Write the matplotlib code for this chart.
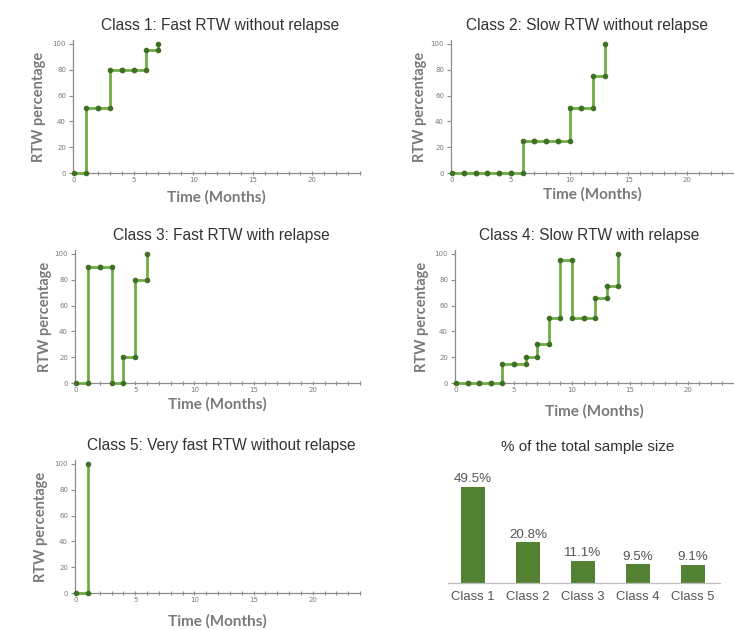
import matplotlib
matplotlib.use("Agg")
import matplotlib.pyplot as plt
import numpy as np
from matplotlib.ticker import MultipleLocator

# ---- data ----
titles = [
    "Class 1: Fast RTW without relapse",
    "Class 2: Slow RTW without relapse",
    "Class 3: Fast RTW with relapse",
    "Class 4: Slow RTW with relapse",
    "Class 5: Very fast RTW without relapse",
]
class1_months = [0, 1, 2, 3, 4, 5, 6, 7]
class1_rtw = [0, 50, 50, 80, 80, 80, 95, 100]
class2_months = [0, 1, 2, 3, 4, 5, 6, 7, 8, 9, 10, 11, 12, 13]
class2_rtw = [0, 0, 0, 0, 0, 0, 25, 25, 25, 25, 50, 50, 75, 100]
class3_months = [0, 1, 2, 3, 4, 5, 6]
class3_rtw = [0, 90, 90, 0, 20, 80, 100]
class4_months = [0, 1, 2, 3, 4, 5, 6, 7, 8, 9, 10, 11, 12, 13, 14]
class4_rtw = [0, 0, 0, 0, 15, 15, 20, 30, 50, 95, 50, 50, 66, 75, 100]
class5_months = [0, 1]
class5_rtw = [0, 100]

bar_labels = ["Class 1", "Class 2", "Class 3", "Class 4", "Class 5"]
bar_values = [49.5, 20.8, 11.1, 9.5, 9.1]
bar_text = ["49.5%", "20.8%", "11.1%", "9.5%", "9.1%"]
bar_title = "% of the total sample size"

series = [
    (class1_months, class1_rtw),
    (class2_months, class2_rtw),
    (class3_months, class3_rtw),
    (class4_months, class4_rtw),
    (class5_months, class5_rtw),
]

W, H = 734, 630
fig = plt.figure(figsize=(W / 100, H / 100), dpi=100)

def px_axes(left, top, right, bottom):
    return fig.add_axes([left / W, 1 - bottom / H, (right - left) / W, (bottom - top) / H])

# pixel boxes (left, top, right, bottom) and label offsets
boxes = [
    (73, 40, 360, 173),
    (451, 40, 734, 173),
    (75, 250, 360, 383),
    (455, 250, 734, 383),
    (75, 460, 360, 593),
]
xlabelpads = [5, 3, 3, 8, 8]
ylabelpads = [5, 2.5, 1.5, 4, 5]
title_dx = [4, -5, 4, -5, 4]

LINE = "#70ad47"
MARK = "#3f7124"
GRAY = "#8c8c8c"
TXT = "#7a7a7a"

for i, (box, (t, v)) in enumerate(zip(boxes, series)):
    ax = px_axes(*box)
    t = np.asarray(t, float)
    v = np.asarray(v, float)
    # step path vertices (steps-post)
    xs = np.repeat(t, 2)[1:]
    ys = np.repeat(v, 2)[:-1]
    ax.plot(xs, ys, color=LINE, lw=2.0, solid_joinstyle="miter", zorder=3,
            marker="o", ms=3.0, mfc=MARK, mec=MARK, clip_on=False)
    ax.set_xlim(-0.1, 24)
    ax.set_ylim(0, 103)
    for s in ["top", "right"]:
        ax.spines[s].set_visible(False)
    for s in ["left", "bottom"]:
        ax.spines[s].set_color(GRAY)
        ax.spines[s].set_linewidth(0.9)
    ax.xaxis.set_major_locator(MultipleLocator(5))
    ax.xaxis.set_minor_locator(MultipleLocator(1))
    ax.yaxis.set_major_locator(MultipleLocator(20))
    ax.tick_params(axis="x", which="both", direction="inout", length=3, width=0.8,
                   color=GRAY, labelsize=5, labelcolor=TXT, pad=1.5)
    ax.tick_params(axis="y", which="both", direction="out", length=3, width=0.8,
                   color=GRAY, labelsize=5, labelcolor=TXT, pad=2)
    aw = box[2] - box[0]
    ax.set_title(titles[i], fontsize=11.2, color="#333333", pad=7,
                 fontfamily="Liberation Sans", x=0.5 + title_dx[i] / aw)
    ax.set_xlabel("Time (Months)", fontsize=11, color=TXT, fontweight="bold",
                  fontfamily="Lato", labelpad=xlabelpads[i])
    ax.set_ylabel("RTW percentage", fontsize=10.5, color=TXT, fontweight="bold",
                  fontfamily="Lato", labelpad=ylabelpads[i])

# bar chart
bx = px_axes(448, 470, 720, 582.5)
pos = np.arange(len(bar_values))
bx.bar(pos, bar_values, width=0.45, color="#548235", zorder=2)
bx.set_xlim(-0.455, 4.49)
bx.set_ylim(0, 58.2)
for s in ["top", "right", "left"]:
    bx.spines[s].set_visible(False)
bx.spines["bottom"].set_color("#bfbfbf")
bx.spines["bottom"].set_linewidth(0.9)
bx.set_yticks([])
bx.set_xticks(pos)
bx.set_xticklabels(bar_labels)
bx.tick_params(axis="x", length=0, labelsize=9.4, labelcolor="#555555", pad=6)
for lbl in bx.get_xticklabels():
    lbl.set_fontfamily("Liberation Sans")
for p, val, txt in zip(pos, bar_values, bar_text):
    bx.text(p, val + 0.8, txt, ha="center", va="bottom", fontsize=9.6,
            color="#555555", fontfamily="Liberation Sans")
fig.text(588 / W, 1 - 447.5 / H, bar_title, ha="center", va="center",
         fontsize=11, color="#333333", fontfamily="Liberation Sans")

fig.savefig("out.png", dpi=100)
